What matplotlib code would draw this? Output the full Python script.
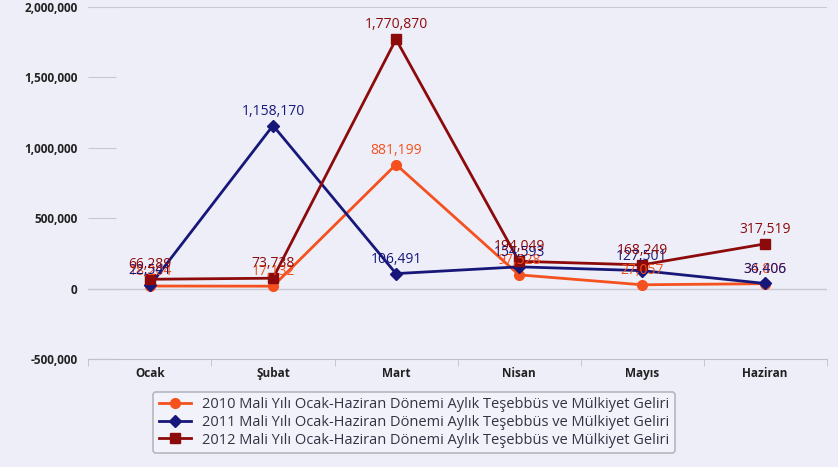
import numpy as np
import matplotlib.pyplot as plt
from matplotlib.ticker import FuncFormatter

plt.rcParams['font.family'] = ['Open Sans', 'DejaVu Sans']

aylar = ['Ocak', 'Şubat', 'Mart', 'Nisan', 'Mayıs', 'Haziran']
gelir_2010 = [18204, 17132, 881199, 97528, 27057, 34805]
gelir_2011 = [22541, 1158170, 106491, 154593, 127501, 36406]
gelir_2012 = [66289, 73738, 1770870, 194049, 168249, 317519]

seriler = [
    ('2010 Mali Yılı Ocak-Haziran Dönemi Aylık Teşebbüs ve Mülkiyet Geliri', gelir_2010, '#f4511e', 'o', 7),
    ('2011 Mali Yılı Ocak-Haziran Dönemi Aylık Teşebbüs ve Mülkiyet Geliri', gelir_2011, '#17177a', 'D', 6),
    ('2012 Mali Yılı Ocak-Haziran Dönemi Aylık Teşebbüs ve Mülkiyet Geliri', gelir_2012, '#8c0a0a', 's', 7),
]

bg = '#eeeef9'
fig = plt.figure(figsize=(8.38, 4.67), dpi=100, facecolor=bg)
ax = fig.add_axes([0.1056, 0.2313, 0.8807, 0.7537])
ax.set_facecolor(bg)

x = np.arange(len(aylar))
for ad, vals, renk, mk, ms in seriler:
    ax.plot(x, vals, color=renk, marker=mk, markersize=ms, linewidth=2, label=ad, zorder=3)
    for xi, v in zip(x, vals):
        ax.annotate(f'{v:,}', (xi, v), xytext=(0, 5), textcoords='offset points',
                    ha='center', va='bottom', fontsize=10, color=renk, zorder=4)

ax.set_xlim(-0.5, len(aylar) - 0.5)
ax.set_ylim(-500000, 2000000)
ax.set_yticks(np.arange(-500000, 2000001, 500000))
ax.yaxis.set_major_formatter(FuncFormatter(lambda v, p: f'{int(v):,}'))
ax.set_xticks(x)
ax.set_xticklabels(aylar)
ax.set_xticks(np.arange(-0.5, len(aylar)), minor=True)

for lab in ax.get_xticklabels() + ax.get_yticklabels():
    lab.set_fontweight('bold')
    lab.set_fontsize(8.5)
    lab.set_color('#222222')

ax.tick_params(axis='x', which='major', length=0, pad=6)
ax.tick_params(axis='x', which='minor', length=5, color='#c0c0c8', direction='out')
ax.tick_params(axis='y', length=20, color='#c8c8d0', direction='in', pad=8)

for s in ['top', 'right', 'left']:
    ax.spines[s].set_visible(False)
ax.spines['bottom'].set_color('#c0c0c8')
ax.axhline(0, color='#c8c8d0', linewidth=1, zorder=1)
ax.axhline(2000000, color='#c8c8d0', linewidth=1.5, zorder=1)

leg = ax.legend(loc='upper center', bbox_to_anchor=(0.441, -0.072), fontsize=10.5,
                frameon=True, fancybox=True, handlelength=2.2, borderpad=0.35,
                labelspacing=0.2, facecolor='#f4f4fb', edgecolor='#a8a8b0')
leg.get_frame().set_linewidth(1.2)
for t in leg.get_texts():
    t.set_color('#333344')

plt.savefig('out.png', dpi=100, facecolor=bg)
